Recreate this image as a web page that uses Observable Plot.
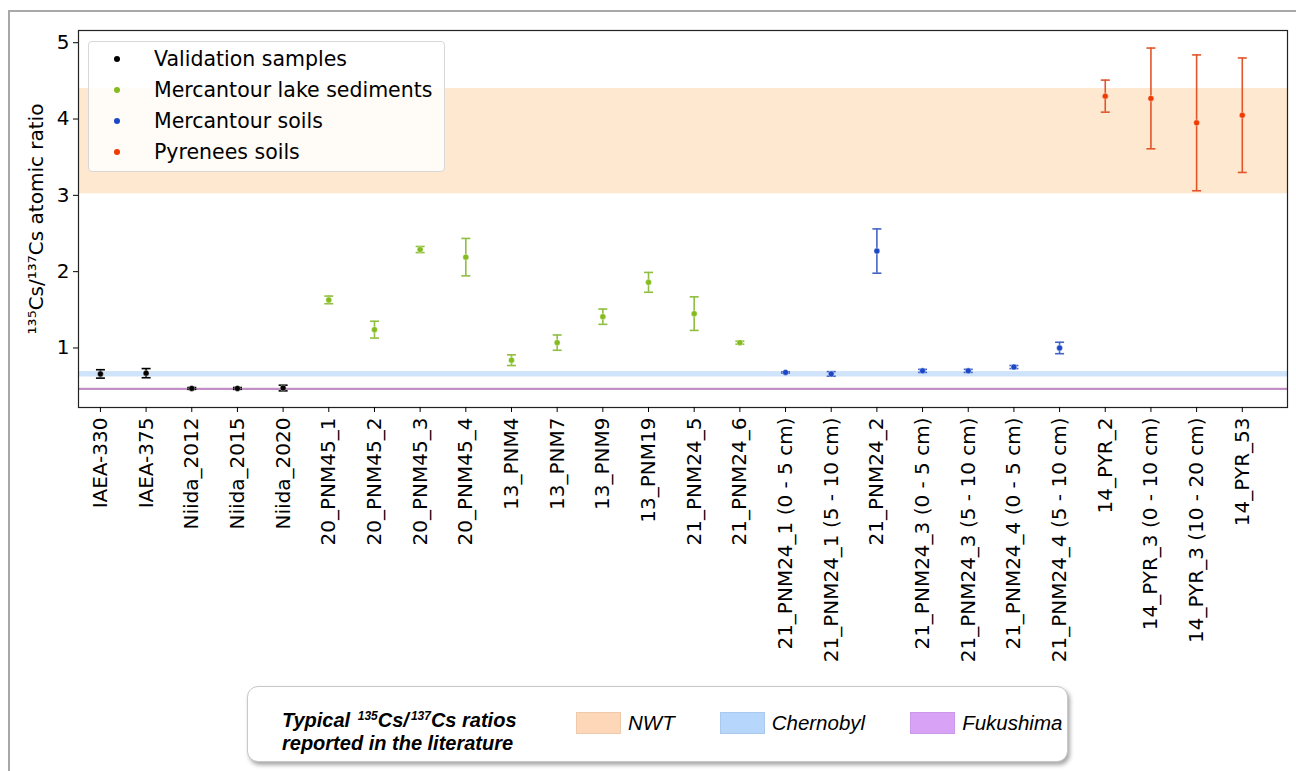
<!DOCTYPE html>
<html><head><meta charset="utf-8">
<script src="https://cdn.jsdelivr.net/npm/d3@7"></script>
<script src="https://cdn.jsdelivr.net/npm/@observablehq/plot@0.6"></script>
<style>
body{margin:0;background:#fff;font-family:"DejaVu Sans",sans-serif;}
#page{position:relative;width:1296px;height:771px;overflow:hidden;background:#fff;}
#border{position:absolute;left:8px;top:10px;width:1320px;height:820px;border:2px solid #a8a8a8;box-sizing:border-box;}
#chart{position:absolute;left:0;top:0;}
#leg1{position:absolute;left:88px;top:41px;width:357px;height:131px;background:rgba(255,255,255,0.8);border:1px solid #d8d8d8;border-radius:4px;box-sizing:border-box;}
#leg1 .row{position:absolute;left:0;height:30px;line-height:30px;font-size:20.5px;color:#000;white-space:nowrap;}
#leg1 .dot{position:absolute;left:25px;top:12px;width:6px;height:6px;border-radius:50%;}
#leg1 .lab{position:absolute;left:65px;top:0;}
#leg2{position:absolute;left:247px;top:686px;width:821px;height:76px;background:#fff;border:1px solid #c8c8c8;border-radius:11px;box-sizing:border-box;box-shadow:2px 3px 4px rgba(0,0,0,0.35);font-family:"Liberation Sans",Arial,sans-serif;}
#leg2 .ttl{position:absolute;left:34px;font-weight:bold;font-style:italic;font-size:20px;line-height:23px;color:#000;white-space:nowrap;}
#leg2 .l1{top:22px;}
#leg2 .l2{top:45px;}
#leg2 .sup{font-size:12px;position:relative;top:-7px;margin-left:2px;}
#leg2 .items{position:absolute;left:328px;top:24px;display:flex;align-items:center;}
#leg2 .sw{width:45px;height:22px;box-sizing:border-box;border:1px solid rgba(0,0,0,0.06);margin-right:7px;}
#leg2 .it{font-style:italic;font-size:20.5px;color:#000;margin-right:45px;}
</style></head>
<body>
<div id="page">
  <div id="border"></div>
  <div id="chart"></div>
  <div id="leg1"></div>
  <div id="leg2">
    <div class="ttl l1">Typical <span class="sup">135</span>Cs/<span class="sup">137</span>Cs ratios</div>
    <div class="ttl l2">reported in the literature</div>
    <div class="items"></div>
  </div>
</div>
<script>
// ---- data ----
const samples = ["IAEA-330","IAEA-375","Niida_2012","Niida_2015","Niida_2020",
  "20_PNM45_1","20_PNM45_2","20_PNM45_3","20_PNM45_4",
  "13_PNM4","13_PNM7","13_PNM9","13_PNM19",
  "21_PNM24_5","21_PNM24_6",
  "21_PNM24_1 (0 - 5 cm)","21_PNM24_1 (5 - 10 cm)","21_PNM24_2",
  "21_PNM24_3 (0 - 5 cm)","21_PNM24_3 (5 - 10 cm)","21_PNM24_4 (0 - 5 cm)","21_PNM24_4 (5 - 10 cm)",
  "14_PYR_2","14_PYR_3 (0 - 10 cm)","14_PYR_3 (10 - 20 cm)","14_PYR_53"];
const groups = ["Validation samples","Validation samples","Validation samples","Validation samples","Validation samples",
  "Mercantour lake sediments","Mercantour lake sediments","Mercantour lake sediments","Mercantour lake sediments",
  "Mercantour lake sediments","Mercantour lake sediments","Mercantour lake sediments","Mercantour lake sediments",
  "Mercantour lake sediments","Mercantour lake sediments",
  "Mercantour soils","Mercantour soils","Mercantour soils","Mercantour soils","Mercantour soils","Mercantour soils","Mercantour soils",
  "Pyrenees soils","Pyrenees soils","Pyrenees soils","Pyrenees soils"];
const ratios = [0.66,0.67,0.47,0.47,0.475,
  1.63,1.24,2.29,2.19,
  0.84,1.07,1.41,1.86,
  1.45,1.07,
  0.68,0.66,2.27,0.70,0.70,0.75,1.00,
  4.30,4.27,3.95,4.05];
const errors = [0.055,0.06,0.012,0.012,0.037,
  0.05,0.11,0.04,0.245,
  0.07,0.10,0.10,0.13,
  0.22,0.02,
  0.008,0.03,0.29,0.02,0.02,0.02,0.075,
  0.21,0.66,0.89,0.75];
const groupNames = ["Validation samples","Mercantour lake sediments","Mercantour soils","Pyrenees soils"];
const groupDot = ["#000000","#84bc1d","#1c48c8","#f03a00"];
const groupErr = ["#000000","#8fbe40","#4565c4","#e2552a"];
const bandNames = ["NWT","Chernobyl","Fukushima"];
const bandLow = [3.02,0.62,0.443];
const bandHigh = [4.40,0.69,0.472];
const bandFill = ["#fee8cf","#cfe3fa","#c28ec6"];
const bandSwatch = ["#fdd7b7","#b6d6fb","#d8a2f6"];
const yTicks = [1,2,3,4,5];

// ---- build ----
const rows = samples.map((s,i)=>({i, sample:s, group:groups[i], ratio:ratios[i], err:errors[i]}));
const cap = {draw(ctx){ ctx.moveTo(-4.5,0); ctx.lineTo(4.5,0); }};
const marks = [];
bandNames.forEach((n,k)=>{
  marks.push(Plot.rect([{y1:bandLow[k], y2:bandHigh[k]}], {y1:"y1", y2:"y2", fill:bandFill[k]}));
});
groupNames.forEach((g,k)=>{
  const d = rows.filter(r=>r.group===g);
  marks.push(Plot.ruleX(d, {x:"i", y1:r=>r.ratio-r.err, y2:r=>r.ratio+r.err, stroke:groupErr[k], strokeWidth:1.6}));
  marks.push(Plot.dot(d, {x:"i", y:r=>r.ratio+r.err, symbol:cap, stroke:groupErr[k], strokeWidth:1.6, fill:"none"}));
  marks.push(Plot.dot(d, {x:"i", y:r=>r.ratio-r.err, symbol:cap, stroke:groupErr[k], strokeWidth:1.6, fill:"none"}));
  marks.push(Plot.dot(d, {x:"i", y:"ratio", r:3, fill:groupDot[k], stroke:"white", strokeWidth:0.4}));
});
marks.push(Plot.frame({stroke:"#222", strokeWidth:1.2}));
marks.push(Plot.axisX({ticks:d3.range(samples.length), tickFormat:i=>samples[i], tickRotate:-90, tickSize:5, tickPadding:5, label:null, fontSize:20}));
marks.push(Plot.axisY({ticks:yTicks, tickFormat:d=>String(d), tickSize:5, tickPadding:4, label:"¹³⁵Cs/¹³⁷Cs atomic ratio", labelAnchor:"center", labelArrow:"none", labelOffset:50, fontSize:20}));

const chart = Plot.plot({
  width:1296, height:680,
  marginLeft:78, marginRight:9, marginTop:30, marginBottom:273,
  style:{fontFamily:"DejaVu Sans, sans-serif", fontSize:"20px", background:"transparent", color:"#000", overflow:"visible"},
  x:{type:"linear", domain:[-0.48, samples.length - 0.01]},
  y:{domain:[0.22, 5.16]},
  marks
});
document.getElementById("chart").appendChild(chart);

// top-left legend
const leg1 = document.getElementById("leg1");
groupNames.forEach((g,k)=>{
  const row = document.createElement("div");
  row.className = "row";
  row.style.top = (2 + k*31) + "px";
  row.innerHTML = `<span class="dot" style="background:${groupDot[k]}"></span><span class="lab">${g}</span>`;
  leg1.appendChild(row);
});
// bottom legend
const items = document.querySelector("#leg2 .items");
bandNames.forEach((n,k)=>{
  const sw = document.createElement("div");
  sw.className = "sw"; sw.style.background = bandSwatch[k];
  const t = document.createElement("div");
  t.className = "it"; t.textContent = n;
  items.appendChild(sw); items.appendChild(t);
});
</script>
</body></html>
